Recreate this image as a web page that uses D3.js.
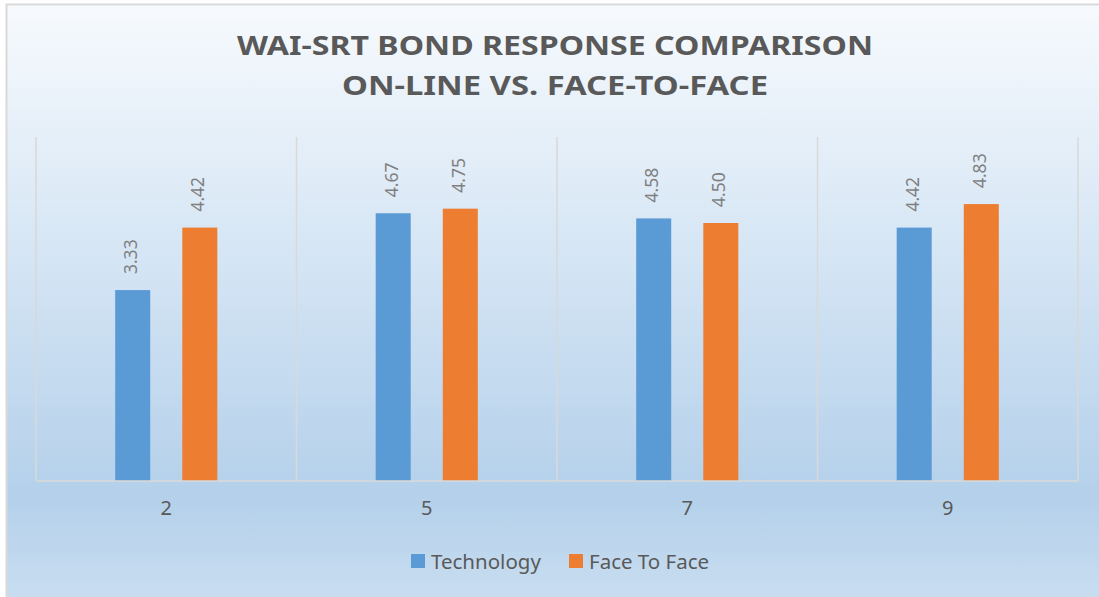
<!DOCTYPE html>
<html>
<head>
<meta charset="utf-8">
<script src="https://cdn.jsdelivr.net/npm/d3@7"></script>
<style>
  html,body{margin:0;padding:0;background:#fff;}
  svg{display:block;font-family:"Noto Sans","Open Sans",sans-serif;}
</style>
</head>
<body>
<div id="chart"></div>
<script>
const categories = ['2','5','7','9'];
const seriesNames = ['Technology','Face To Face'];
const technology = [3.33, 4.67, 4.58, 4.42];
const faceToFace = [4.42, 4.75, 4.50, 4.83];
const yDomain = [0, 6];
const titleLines = ['WAI-SRT BOND RESPONSE COMPARISON','ON-LINE VS. FACE-TO-FACE'];

const W=1099, H=597;
const colors={'Technology':'#5B9BD5','Face To Face':'#ED7D31'};
const svg=d3.select('#chart').append('svg').attr('width',W).attr('height',H);

// background gradient like the office chart area
const defs=svg.append('defs');
const grad=defs.append('linearGradient').attr('id','bg').attr('x1',0).attr('y1',0).attr('x2',0).attr('y2',1);
[[0,'#F7FAFD'],[0.45,'#D3E4F4'],[0.83,'#B4D0EA'],[1,'#C8DDF0']]
  .forEach(([o,c])=>grad.append('stop').attr('offset',o).attr('stop-color',c));

svg.append('rect').attr('x',6).attr('y',4).attr('width',W-6).attr('height',H-4).attr('fill','url(#bg)');
svg.append('path').attr('d',`M6.5,${H} V4.5 H${W}`).attr('fill','none').attr('stroke','#D9D9D9').attr('stroke-width',2);

// title
svg.append('g').selectAll('text').data(titleLines).join('text')
  .attr('x',555).attr('y',(d,i)=>55+i*39.5)
  .attr('text-anchor','middle')
  .attr('font-size',27).attr('font-weight',700).attr('fill','#595959')
  .attr('textLength',(d,i)=>i===0?636:426)
  .attr('lengthAdjust','spacingAndGlyphs')
  .text(d=>d);

const plot={left:36,right:1078,top:137,bottom:481};
const x0=d3.scaleBand().domain(categories).range([plot.left,plot.right]).padding(0);
const x1=d3.scaleBand().domain(seriesNames).range([0,x0.bandwidth()]).paddingInner(0.478).paddingOuter(1.18);
const y=d3.scaleLinear().domain(yDomain).range([plot.bottom,plot.top]);

// vertical category gridlines
const g=svg.append('g');
g.selectAll('line.grid').data(d3.range(categories.length+1)).join('line')
  .attr('class','grid')
  .attr('x1',i=>plot.left+i*x0.step()).attr('x2',i=>plot.left+i*x0.step())
  .attr('y1',plot.top).attr('y2',plot.bottom)
  .attr('stroke','#D9D9D9').attr('stroke-width',1.5);

const rows=categories.map((c,i)=>({cat:c,values:[
  {name:'Technology',value:technology[i]},
  {name:'Face To Face',value:faceToFace[i]}]}));

const grp=g.selectAll('g.cat').data(rows).join('g').attr('class','cat')
  .attr('transform',d=>`translate(${x0(d.cat)},0)`);

grp.selectAll('rect').data(d=>d.values).join('rect')
  .attr('x',d=>x1(d.name)).attr('width',x1.bandwidth())
  .attr('y',d=>y(d.value)).attr('height',d=>y(0)-y(d.value))
  .attr('fill',d=>colors[d.name]);

grp.selectAll('text').data(d=>d.values).join('text')
  .attr('transform',d=>`translate(${x1(d.name)+x1.bandwidth()/2},${y(d.value)-16}) rotate(-90)`)
  .attr('dominant-baseline','middle')
  .attr('font-size',17.5).attr('fill','#7F7F7F')
  .text(d=>d.value.toFixed(2));

// baseline axis
g.append('line').attr('x1',plot.left).attr('x2',plot.right).attr('y1',plot.bottom).attr('y2',plot.bottom)
  .attr('stroke','#D9D9D9').attr('stroke-width',1.5);

g.selectAll('text.tick').data(categories).join('text').attr('class','tick')
  .attr('x',d=>x0(d)+x0.bandwidth()/2).attr('y',515)
  .attr('text-anchor','middle').attr('font-size',20).attr('fill','#595959')
  .text(d=>d);

// legend
const legX=[411,569];
const leg=svg.append('g').selectAll('g').data(seriesNames).join('g')
  .attr('transform',(d,i)=>`translate(${legX[i]},554)`);
leg.append('rect').attr('width',14).attr('height',14).attr('fill',d=>colors[d]);
leg.append('text').attr('x',20).attr('y',14.5).attr('font-size',20.5).attr('fill','#595959').text(d=>d);
</script>
</body>
</html>
